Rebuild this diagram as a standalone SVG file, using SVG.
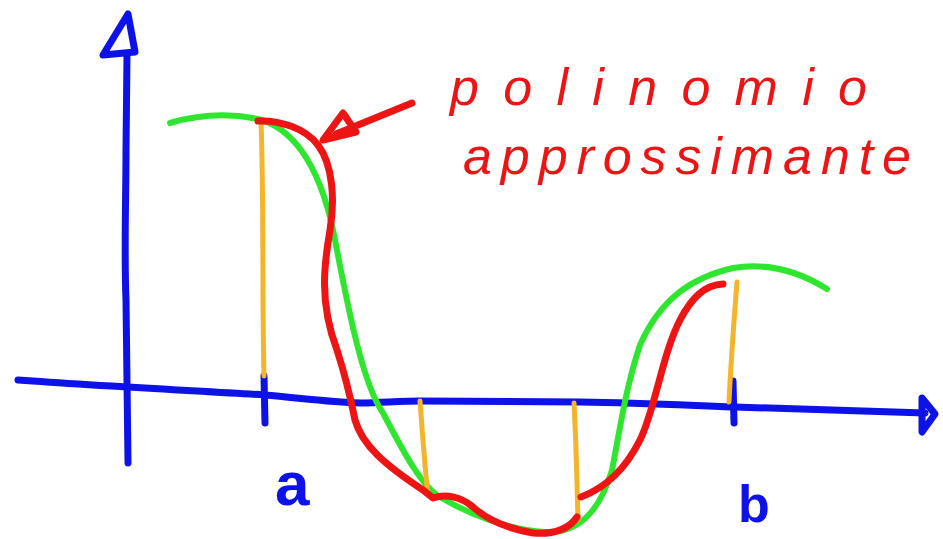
<svg xmlns="http://www.w3.org/2000/svg" width="943" height="539" viewBox="0 0 943 539">
<style>
.ax{fill:none;stroke:#0d12e8;stroke-width:7;stroke-linecap:round;stroke-linejoin:round}
.gr{fill:none;stroke:#2ee62e;stroke-width:6;stroke-linecap:round;stroke-linejoin:round}
.rd{fill:none;stroke:#ee1414;stroke-width:7;stroke-linecap:round;stroke-linejoin:round}
.or{fill:none;stroke:#f4b52c;stroke-width:5;stroke-linecap:round}
.lbl{font-family:"Liberation Sans",Arial,sans-serif;font-weight:bold;fill:#0d12e8}
.note{font-family:"Liberation Sans",Arial,sans-serif;font-style:italic;fill:#ee1414;font-size:52px}
</style>
<rect width="943" height="539" fill="#ffffff"/>
<g id="axes">
  <path class="ax" d="M128,463 L126,300 C124,250 126,200 126,150 L127,55"/>
  <path class="ax" d="M103,55 L128,14 L135,52 Z"/>
  <path class="ax" d="M18,380 C100,386 200,391 265,395 C300,398 330,402 360,403 C390,402 405,401 420,401 C500,401 540,402 580,402 C650,403 700,406 735,407 C820,410 880,412 925,413"/>
  <path class="ax" d="M922,398 L935,414 L922,432 Z"/>
  <path class="ax" d="M264,376 L265,423"/>
  <path class="ax" d="M733,381 L734,423"/>
</g>
<g id="function-curve">
  <path class="gr" d="M170,123 Q215,110 258,119 C290,127 318,160 333,230 C345,290 360,380 383,413 C400,445 420,485 440,497 C470,515 510,530 545,532 C580,534 600,510 612,470 C620,430 625,390 640,345 C660,300 690,278 733,268 C770,262 800,272 827,289"/>
</g>
<g id="nodes-lines">
  <path class="or" d="M261,121 C264,200 262,300 264,376"/>
  <path class="or" d="M420,401 C423,440 425,470 428,495"/>
  <path class="or" d="M574,403 C576,440 577,480 578,520"/>
  <path class="or" d="M737,282 C734,320 731,360 729,402"/>
</g>
<g id="polynomial">
  <path class="rd" d="M258,121 C280,120 305,128 318,145 C333,165 335,200 330,230 C325,260 318,300 337,350 C345,375 350,395 355,420 C362,445 385,465 423,490 L433,498 C445,494 460,496 473,507 C485,518 505,528 533,533 C555,535 570,528 577,517"/>
  <path class="rd" d="M581,497 C605,488 625,470 640,440 C655,410 662,355 680,320 C692,297 705,285 723,284"/>
</g>
<g id="connectors">
  <path class="rd" d="M412,103 L336,134"/>
  <path class="rd" d="M323,140 L343,113 L356,132 Z"/>
</g>
<g id="labels">
  <text class="lbl" x="275" y="505" font-size="62">a</text>
  <text class="lbl" x="738" y="522" font-size="52">b</text>
</g>
<g id="annotation">
  <text class="note" x="450" y="105" textLength="417" lengthAdjust="spacing">polinomio</text>
  <text class="note" x="463" y="174" textLength="448" lengthAdjust="spacing">approssimante</text>
</g>
</svg>
